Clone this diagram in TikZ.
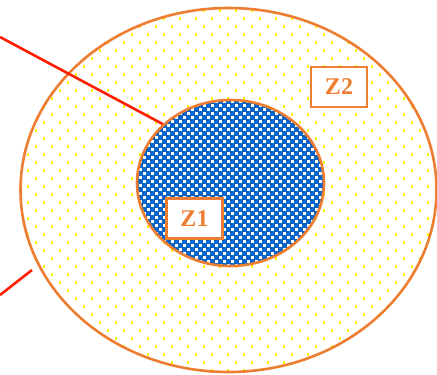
\documentclass[tikz,border=0pt]{standalone}
\usepackage{fontspec}
\setmainfont{Liberation Serif}
\usetikzlibrary{shapes.geometric}
\definecolor{zoneOrange}{RGB}{237,125,49}
\definecolor{zoneBlue}{RGB}{10,100,200}
\definecolor{dotYellow}{RGB}{255,240,0}
\definecolor{lineRed}{RGB}{255,30,0}

\begin{document}
\begin{tikzpicture}[x=1pt, y=-1pt,
    zone/.style={ellipse, draw=zoneOrange, line width=2.6pt, inner sep=0pt},
    zonelabel/.style={draw=zoneOrange, line width=2.8pt, fill=white, text=zoneOrange,
      font=\fontsize{24}{24}\selectfont\bfseries, minimum width=56pt, minimum height=40pt, inner sep=0pt},
    redline/.style={lineRed, line width=2.6pt}]
                \useasboundingbox (0,0) rectangle (437,375);
                
                % Puntos amarillos de la zona exterior
                \begin{scope}
                  \clip (228.5,190) ellipse (208 and 182);
                  \foreach \j in {0,...,46} {
                    \pgfmathsetmacro\off{mod(\j,2)*8}
                    \foreach \i in {0,...,27}
                      \fill[dotYellow] (2.7+16*\i+\off,1.4+8*\j) rectangle ++(2.6,2.6);
                  }
                \end{scope}
                
                % Cuadros azules de la zona interior
                \begin{scope}
                  \clip (230.5,183) ellipse (93.5 and 83);
                  \fill[zoneBlue] (136,99) rectangle (326,268);
                  \foreach \j in {0,...,42} {
                    \pgfmathsetmacro\off{mod(\j,2)*4}
                    \foreach \i in {0,...,24}
                      \fill[white] (134.5+8*\i+\off,99.5+4*\j) rectangle ++(3.4,3.4);
                  }
                \end{scope}
                
                % Bordes de las zonas
                \node[zone, minimum width=416pt, minimum height=364pt] (Z2zone) at (228.5,190) {};
                \node[zone, minimum width=187pt, minimum height=166pt] (Z1zone) at (230.5,183) {};
                
                % Etiquetas
                \node[zonelabel] (Z1) at (194.5,218.5) {Z1};
                \node[zonelabel] (Z2) at (339,87) {Z2};
                
                % Lineas rojas
                \coordinate (R1) at (0,37);
                \coordinate (R2) at (0,295);
                \coordinate (R3) at (32,270);
                \draw[redline] (R1) -- (Z1zone.139.6);
                \draw[redline] (R2) -- (R3);
            \end{tikzpicture}
\end{document}
